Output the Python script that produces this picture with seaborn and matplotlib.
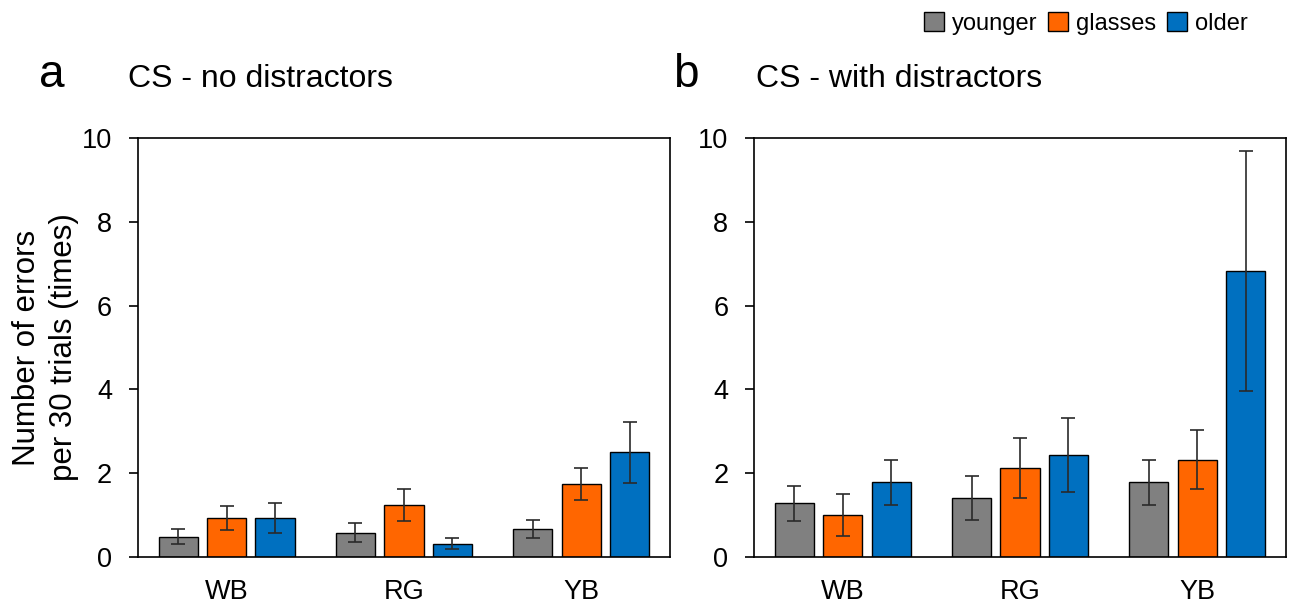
import pandas as pd
import matplotlib
matplotlib.use("Agg")
import matplotlib.pyplot as plt
import seaborn as sns
from matplotlib.patches import Patch

# data (mean, half error bar)
categories = ["WB", "RG", "YB"]
groups = ["younger", "glasses", "older"]
colors = ["#808080", "#FF6600", "#0070C0"]

no_dist_mean = {"younger": [0.48, 0.58, 0.67],
                "glasses": [0.93, 1.24, 1.75],
                "older": [0.93, 0.32, 2.50]}
no_dist_err = {"younger": [0.18, 0.22, 0.22],
               "glasses": [0.28, 0.38, 0.38],
               "older": [0.36, 0.14, 0.73]}

dist_mean = {"younger": [1.28, 1.41, 1.78],
             "glasses": [1.00, 2.12, 2.32],
             "older": [1.78, 2.44, 6.83]}
dist_err = {"younger": [0.41, 0.53, 0.53],
            "glasses": [0.50, 0.72, 0.70],
            "older": [0.53, 0.88, 2.87]}

sns.set_style("white")
plt.rcParams["font.family"] = ["Liberation Sans", "DejaVu Sans"]
plt.rcParams["text.color"] = "black"
plt.rcParams["axes.labelcolor"] = "black"
plt.rcParams["xtick.color"] = "black"
plt.rcParams["ytick.color"] = "black"


def make_df(mean, err):
    rows = []
    for g in groups:
        for c, m, e in zip(categories, mean[g], err[g]):
            rows.append({"cond": c, "group": g, "value": m, "err": e})
    return pd.DataFrame(rows)


def draw(ax, df):
    sns.barplot(data=df, x="cond", y="value", hue="group", order=categories,
                hue_order=groups, palette=colors, errorbar=None, width=0.82,
                gap=0.19, edgecolor="black", linewidth=1.0, saturation=1,
                legend=False, ax=ax)
    for g, cont in zip(groups, ax.containers):
        sub = df[df.group == g].set_index("cond").loc[categories]
        xs = [b.get_x() + b.get_width() / 2 for b in cont]
        ax.errorbar(xs, sub["value"], yerr=sub["err"], fmt="none",
                    ecolor="#2a2a2a", elinewidth=1.2, capsize=5, capthick=1.2)
    ax.set_ylim(0, 10)
    ax.set_xlim(-0.5, 2.5)
    ax.set_yticks([0, 2, 4, 6, 8, 10])
    ax.set_xlabel("")
    ax.set_ylabel("")
    ax.tick_params(axis="y", direction="out", length=6.5, width=1.2,
                   labelsize=19.5, pad=12, left=True)
    ax.tick_params(axis="x", length=0, labelsize=19.5, pad=16)
    for s in ax.spines.values():
        s.set_visible(True)
        s.set_color("black")
        s.set_linewidth(1.2)


fig = plt.figure(figsize=(12.94, 6.06), dpi=100)
ax1 = fig.add_axes([0.1066, 0.0809, 0.4111, 0.6914])
ax2 = fig.add_axes([0.5827, 0.0809, 0.4111, 0.6914])

draw(ax1, make_df(no_dist_mean, no_dist_err))
draw(ax2, make_df(dist_mean, dist_err))

ax1.set_ylabel("Number of errors\nper 30 trials (times)", fontsize=22.5,
               labelpad=2, linespacing=1.3)

fig.text(0.030, 0.857, "a", fontsize=33, va="baseline")
fig.text(0.099, 0.857, "CS - no distractors", fontsize=23, va="baseline")
fig.text(0.520, 0.857, "b", fontsize=33, va="baseline")
fig.text(0.584, 0.857, "CS - with distractors", fontsize=23, va="baseline")

handles = [Patch(facecolor=c, edgecolor="black", linewidth=1.0) for c in colors]
fig.legend(handles, groups, loc="upper right", bbox_to_anchor=(0.981, 1.015),
           ncol=3, frameon=False, fontsize=17, handlelength=0.85,
           handleheight=0.85, handletextpad=0.35, columnspacing=0.45)

fig.savefig("out.png", dpi=100)
